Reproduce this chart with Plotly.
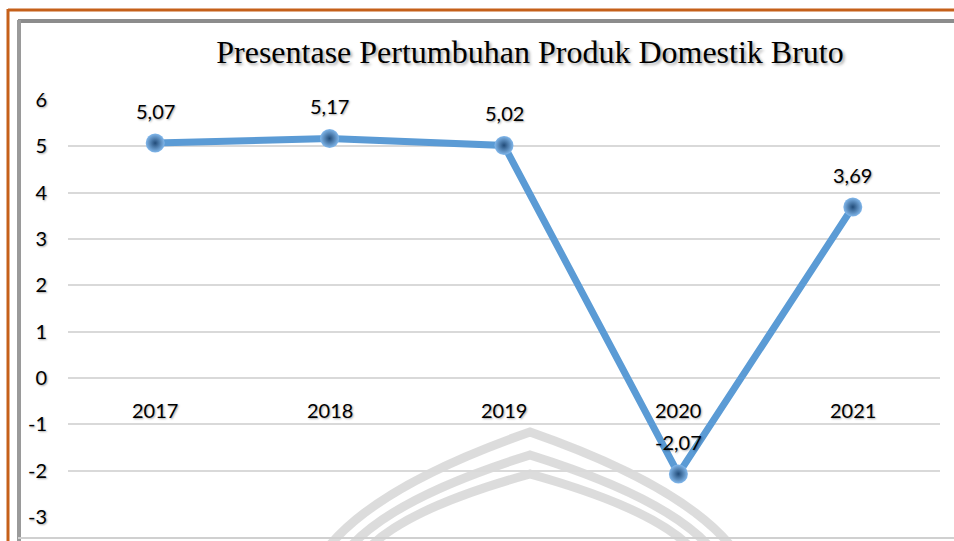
import plotly.graph_objects as go

# ---- data ----
years = ["2017", "2018", "2019", "2020", "2021"]
growth = [5.07, 5.17, 5.02, -2.07, 3.69]
labels = ["5,07", "5,17", "5,02", "-2,07", "3,69"]
y_ticks = [-3, -2, -1, 0, 1, 2, 3, 4, 5, 6]
y_tick_text = ["-3", "-2", "-1", "0", "1", "2", "3", "4", "5", "6"]
title_text = "Presentase Pertumbuhan Produk Domestik Bruto"

W, H = 954, 541
L, R, T, B = 68, 14, 100, 24
PW, PH = W - L - R, H - T - B


def px(x):
    return (x - L) / PW


def py(y):
    return (H - B - y) / PH


fig = go.Figure()
fig.add_trace(go.Scatter(
    x=list(range(len(years))), y=growth, mode="lines+markers",
    line=dict(color="#5B9BD5", width=7),
    marker=dict(size=19, color="#82B8EC",
                gradient=dict(type="radial", color="#224C79"),
                line=dict(width=0)),
    hoverinfo="skip", showlegend=False,
))

annots = []
shadow = "1px 1px 2px rgba(0,0,0,0.35)"
for i, (yr, v, lab) in enumerate(zip(years, growth, labels)):
    annots.append(dict(x=i, y=v, xref="x", yref="y", text=lab, showarrow=False,
                       yshift=32,
                       font=dict(family="Lato", size=20, color="#000", shadow=shadow)))
    annots.append(dict(x=i, y=0, xref="x", yref="y", text=yr, showarrow=False,
                       yshift=-32,
                       font=dict(family="Lato", size=20, color="#000", shadow=shadow)))

shapes = []
# watermark arcs (decorative)
arc_specs = [(432, 330), (455, 352), (474, 372)]
for apex, left_end in arc_specs:
    cx = 530
    half = cx - left_end
    ctrl_dx = 0.745 * half
    ctrl_dy = (545 - apex) * 0.46
    p = (f"M {px(left_end)} {py(545)} "
         f"Q {px(cx - ctrl_dx)} {py(apex + ctrl_dy)} {px(cx)} {py(apex)} "
         f"Q {px(cx + ctrl_dx)} {py(apex + ctrl_dy)} {px(2*cx - left_end)} {py(545)}")
    shapes.append(dict(type="path", path=p, xref="paper", yref="paper",
                       line=dict(color="rgba(205,205,205,0.7)", width=9),
                       layer="below"))

# gray inner frame
shapes.append(dict(type="line", xref="paper", yref="paper",
                   x0=px(18), x1=px(954), y0=py(21), y1=py(21),
                   line=dict(color="#8c8c8c", width=4)))
shapes.append(dict(type="line", xref="paper", yref="paper",
                   x0=px(19), x1=px(19), y0=py(20), y1=py(541),
                   line=dict(color="#9a9a9a", width=4)))
shapes.append(dict(type="line", xref="paper", yref="paper",
                   x0=px(18), x1=px(954), y0=py(538), y1=py(538),
                   line=dict(color="#d0d0d0", width=2)))
# orange outer frame
shapes.append(dict(type="line", xref="paper", yref="paper",
                   x0=px(8), x1=px(954), y0=py(10), y1=py(10),
                   line=dict(color="#C5601A", width=3)))
shapes.append(dict(type="line", xref="paper", yref="paper",
                   x0=px(8), x1=px(8), y0=py(9), y1=py(541),
                   line=dict(color="#C5601A", width=3)))

fig.update_layout(
    width=W, height=H,
    margin=dict(l=L, r=R, t=T, b=B),
    paper_bgcolor="white", plot_bgcolor="rgba(0,0,0,0)",
    title=dict(text=title_text, xref="container", yref="container",
               x=530 / W, y=1 - 52 / H, xanchor="center", yanchor="middle",
               font=dict(family="Liberation Serif", size=32, color="#000",
                         shadow="2px 2px 3px rgba(0,0,0,0.35)")),
    xaxis=dict(range=[-0.5, 4.5], showgrid=False,
               showticklabels=False, zeroline=False, showline=False),
    yaxis=dict(range=[-3, 6], tickvals=y_ticks, ticktext=y_tick_text,
               showgrid=True,
               gridcolor="#d9d9d9", gridwidth=2, zeroline=False, showline=False,
               ticklabelstandoff=20,
               tickfont=dict(family="Lato", size=20, color="#000", shadow=shadow)),
    annotations=annots,
    shapes=shapes,
)

fig.write_html("out.html", config={"displayModeBar": False},
               post_script="document.body.style.margin='0';document.body.style.overflow='hidden';")
